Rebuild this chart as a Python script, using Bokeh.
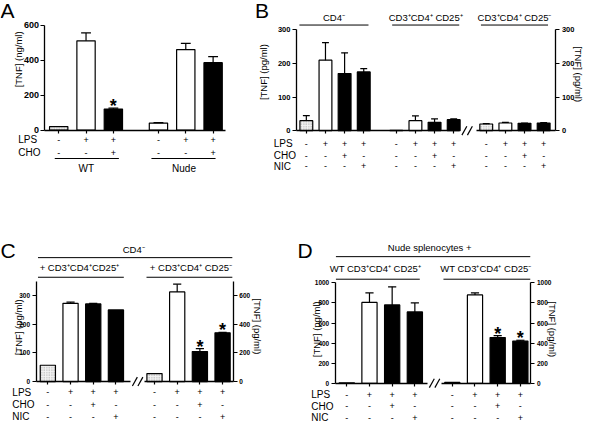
import math
from bokeh.plotting import figure
from bokeh.models import Range1d, LinearAxis, FixedTicker
from bokeh.layouts import column, row
from bokeh.core.properties import value
from bokeh.embed import file_html
from bokeh.resources import INLINE

FONT = "Liberation Sans"

# ---------------- data ----------------
# Panel A  (TNF, ng/ml)
A_groups = ["WT", "Nude"]
A_lps = ["-", "+", "+", "-", "+", "+"]
A_cho = ["-", "-", "+", "-", "-", "+"]
A_tnf = [20, 510, 120, 40, 460, 385]
A_sem = [0, 45, 5, 2, 35, 35]
A_fill = ["hatch", "white", "black", "white", "white", "black"]
A_sig = ["", "", "*", "", "", ""]
A_ticks = [0, 200, 400, 600]

# Panel B  (TNF, pg/ml)
B_groups = ["CD4⁻", "CD3⁺CD4⁺ CD25⁺", "CD3⁺CD4⁺ CD25⁻"]
B_lps = ["-", "+", "+", "+", "-", "+", "+", "+", "-", "+", "+", "+"]
B_cho = ["-", "-", "+", "-", "-", "-", "+", "-", "-", "-", "+", "-"]
B_nic = ["-", "-", "-", "+", "-", "-", "-", "+", "-", "-", "-", "+"]
B_tnf = [30, 210, 170, 175, 1, 30, 25, 33, 20, 23, 22, 23]
B_sem = [15, 52, 62, 10, 0, 14, 10, 2, 1, 2, 1, 1]
B_fill = ["hatch", "white", "black", "black", "hatch", "white", "black", "black",
          "hatch", "white", "black", "black"]
B_ticks = [0, 100, 200, 300]

# Panel C  (left group on left axis, right group on right axis)
C_top = "CD4⁻"
C_groups = ["+ CD3⁺CD4⁺CD25⁺", "+ CD3⁺CD4⁺ CD25⁻"]
C_lps = ["-", "+", "+", "+", "-", "+", "+", "+"]
C_cho = ["-", "-", "+", "-", "-", "-", "+", "-"]
C_nic = ["-", "-", "-", "+", "-", "-", "-", "+"]
C_tnf_left = [57, 273, 271, 250]
C_sem_left = [0, 4, 2, 0]
C_tnf_right = [56, 626, 210, 340]
C_sem_right = [0, 54, 20, 4]
C_fill = ["hatch", "white", "black", "black"]
C_sig_right = ["", "", "*", "*"]
C_ticks_left = [0, 100, 200, 300]
C_ticks_right = [0, 200, 400, 600]

# Panel D
D_top = "Nude splenocytes +"
D_groups = ["WT CD3⁺CD4⁺ CD25⁺", "WT CD3⁺CD4⁺ CD25⁻"]
D_lps = ["-", "+", "+", "+", "-", "+", "+", "+"]
D_cho = ["-", "-", "+", "-", "-", "-", "+", "-"]
D_nic = ["-", "-", "-", "+", "-", "-", "-", "+"]
D_tnf = [5, 805, 780, 710, 8, 880, 455, 420]
D_sem = [0, 95, 180, 90, 0, 20, 20, 8]
D_fill = ["hatch", "white", "black", "black", "hatch", "white", "black", "black"]
D_sig = ["", "", "", "", "", "", "*", "*"]
D_ticks = [0, 200, 400, 600, 800, 1000]

# ---------------- layout helpers ----------------
SX = 587 / 595.0
SY = 422 / 430.0


class Geo:
    def __init__(self, left, top, w, h, rx0, slot, ry0, k):
        self.left, self.top, self.w, self.h = left, top, w, h
        self.rx0, self.slot, self.ry0, self.k = rx0, slot, ry0, k

    def xd(self, rx):
        return (rx - self.rx0) / self.slot

    def yd(self, ry):
        return (self.ry0 - ry) / self.k

    def xr(self):
        return Range1d(self.xd(5 + self.left / SX), self.xd(5 + (self.left + self.w) / SX))

    def ylims(self):
        return (self.yd(5 + (self.top + self.h) / SY), self.yd(5 + self.top / SY))


def make_fig(g):
    lo, hi = g.ylims()
    p = figure(width=g.w, height=g.h, x_range=g.xr(), y_range=Range1d(lo, hi),
               x_axis_location=None, y_axis_location=None, min_border=0,
               toolbar_location=None, output_backend="svg")
    p.outline_line_color = None
    p.grid.visible = False
    return p


def txt(p, xs, ys, texts, size, align="center", baseline="middle", bold=False, angle=0.0):
    p.text(x=xs, y=ys, text=texts, text_font=value(FONT),
           text_font_size=value("%.1fpx" % size), text_align=align,
           text_baseline=baseline, text_font_style="bold" if bold else "normal",
           angle=angle, text_color="black")


def bars(p, xs, vals, sems, fills, yname="default"):
    styles = {"white": "white", "black": "black", "hatch": "#f2f2f2"}
    for kind, fc in styles.items():
        idx = [i for i, f in enumerate(fills) if f == kind]
        if not idx:
            continue
        kw = {}
        if kind == "hatch":
            kw = dict(hatch_pattern="dot", hatch_color="#a0a0a0", hatch_scale=2.5)
        p.vbar(x=[xs[i] for i in idx], top=[vals[i] for i in idx], bottom=0,
               width=0.67, fill_color=fc, line_color="black", line_width=1.2,
               y_range_name=yname, **kw)
    idx = [i for i in range(len(xs)) if sems[i] > 0]
    ex = [xs[i] for i in idx]
    v0 = [vals[i] for i in idx]
    v1 = [vals[i] + sems[i] for i in idx]
    p.segment(x0=ex, y0=v0, x1=ex, y1=v1, line_color="black", line_width=1.2, y_range_name=yname)
    p.segment(x0=[x - 0.18 for x in ex], y0=v1, x1=[x + 0.18 for x in ex], y1=v1,
              line_color="black", line_width=1.2, y_range_name=yname)


def stars(p, g, xs, vals, sems, sig, scale=1.0):
    idx = [i for i, s in enumerate(sig) if s]
    ys = [(vals[i] + sems[i]) * scale + 2 / (SY * g.k) for i in idx]
    txt(p, [xs[i] for i in idx], ys, [sig[i] for i in idx], 18, baseline="middle", bold=True)


def yaxis(p, g, rx, ticks, top, side, fsize, yname="default"):
    ax = LinearAxis(fixed_location=g.xd(rx), bounds=(0, top),
                    ticker=FixedTicker(ticks=ticks), y_range_name=yname)
    ax.axis_line_width = 1.3
    ax.axis_line_color = "black"
    ax.major_tick_out = 4
    ax.major_tick_in = 0
    ax.major_tick_line_width = 1.2
    ax.major_tick_line_color = "black"
    ax.minor_tick_out = 0
    ax.minor_tick_in = 0
    ax.major_label_text_font = FONT
    ax.major_label_text_font_style = "bold"
    ax.major_label_text_font_size = "%.1fpx" % fsize
    ax.major_label_text_color = "black"
    ax.major_label_standoff = 2
    p.add_layout(ax, side)


def xaxis(p, g, rxa, rxb, ticks):
    ax = LinearAxis(fixed_location=0, bounds=(g.xd(rxa), g.xd(rxb)),
                    ticker=FixedTicker(ticks=ticks))
    ax.axis_line_width = 1.3
    ax.axis_line_color = "black"
    ax.major_tick_out = 3
    ax.major_tick_in = 0
    ax.major_tick_line_width = 1.2
    ax.major_tick_line_color = "black"
    ax.minor_tick_out = 0
    ax.minor_tick_in = 0
    ax.major_label_text_font_size = "0px"
    ax.major_label_text_color = None
    p.add_layout(ax, "below")


def brk(p, g, rxc, ry0):
    for dx in (-2.8, 2.8):
        p.segment(x0=[g.xd(rxc + dx - 2.5)], y0=[g.yd(ry0 + 4.5)],
                  x1=[g.xd(rxc + dx + 2.5)], y1=[g.yd(ry0 - 4.5)],
                  line_color="black", line_width=1.2)


def hline(p, g, rxa, rxb, ry):
    p.segment(x0=[g.xd(rxa)], y0=[g.yd(ry)], x1=[g.xd(rxb)], y1=[g.yd(ry)],
              line_color="black", line_width=1.0)


def table(p, g, rx_lab, rows, pos):
    for name, ry, signs in rows:
        txt(p, [g.xd(rx_lab)], [g.yd(ry)], [name], 10, align="left")
        txt(p, pos, [g.yd(ry)] * len(pos), signs, 9)


AX_LBL = 9.5

# ---------------- Panel A ----------------
gA = Geo(0, 0, 247, 191, 64, 27.7, 137, 107 / 600)
pA = make_fig(gA)
posA = [gi * 3.65 + j for gi in range(2) for j in range(3)]
bars(pA, posA, A_tnf, A_sem, A_fill)
stars(pA, gA, posA, A_tnf, A_sem, A_sig)
yaxis(pA, gA, 50, A_ticks, 600, "left", 9)
xaxis(pA, gA, 50, 233, posA)
table(pA, gA, 23, [("LPS", 147, A_lps), ("CHO", 160, A_cho)], posA)
hline(pA, gA, 60, 125, 166)
hline(pA, gA, 158, 223, 166)
txt(pA, [gA.xd(92), gA.xd(191)], [gA.yd(176), gA.yd(176)], A_groups, 10)
txt(pA, [gA.xd(23)], [gA.yd(65)], ["[TNF] (ng/ml)"], AX_LBL, angle=math.pi / 2)
txt(pA, [gA.xd(5)], [gA.yd(15)], ["A"], 21, align="left")

# ---------------- Panel B ----------------
gB = Geo(247, 0, 340, 191, 315, 19.4, 137.7, 102.7 / 300)
pB = make_fig(gB)
posB = [gi * 4.7 + j for gi in range(3) for j in range(4)]
bars(pB, posB, B_tnf, B_sem, B_fill)
yaxis(pB, gB, 305, B_ticks, 300, "left", 7.5)
yaxis(pB, gB, 568, B_ticks, 300, "right", 7.5)
xaxis(pB, gB, 305, 470, posB[:8])
xaxis(pB, gB, 487, 568, posB[8:])
brk(pB, gB, 478, 137.7)
table(pB, gB, 282, [("LPS", 151, B_lps), ("CHO", 163, B_cho), ("NIC", 174, B_nic)], posB)
for (a, b) in [(308, 378), (402, 470), (492, 560)]:
    hline(pB, gB, a, b, 30)
txt(pB, [gB.xd(343), gB.xd(436), gB.xd(526)], [gB.yd(22)] * 3, B_groups, 9.5)
txt(pB, [gB.xd(272)], [gB.yd(78)], ["[TNF] (pg/ml)"], AX_LBL, angle=math.pi / 2)
txt(pB, [gB.xd(591)], [gB.yd(80)], ["[TNF] (pg/ml)"], AX_LBL, angle=-math.pi / 2)
txt(pB, [gB.xd(263)], [gB.yd(15)], ["B"], 21, align="left")

# ---------------- Panel C ----------------
gC = Geo(0, 191, 291, 231, 53, 23, 393.3, 87.6 / 300)
pC = make_fig(gC)
lo, hi = gC.ylims()
pC.extra_y_ranges = {"r": Range1d(lo * 2, hi * 2)}
posC = [gi * 4.7 + j for gi in range(2) for j in range(4)]
bars(pC, posC[:4], C_tnf_left, C_sem_left, C_fill)
bars(pC, posC[4:], C_tnf_right, C_sem_right, C_fill, yname="r")
stars(pC, gC, posC[4:], C_tnf_right, C_sem_right, C_sig_right, scale=0.5)
yaxis(pC, gC, 41, C_ticks_left, 350, "left", 6.5)
yaxis(pC, gC, 241, C_ticks_right, 700, "right", 6.5, yname="r")
xaxis(pC, gC, 41, 137, posC[:4])
xaxis(pC, gC, 151, 241, posC[4:])
brk(pC, gC, 144, 393.3)
table(pC, gC, 17, [("LPS", 404, C_lps), ("CHO", 417, C_cho), ("NIC", 429, C_nic)], posC)
hline(pC, gC, 43, 240, 267)
hline(pC, gC, 43, 130, 287)
hline(pC, gC, 153, 240, 287)
txt(pC, [gC.xd(140)], [gC.yd(259)], [C_top], 9.5)
txt(pC, [gC.xd(85), gC.xd(198)], [gC.yd(277)] * 2, C_groups, 9.5)
txt(pC, [gC.xd(23)], [gC.yd(338)], ["[TNF] (pg/ml)"], AX_LBL, angle=math.pi / 2)
txt(pC, [gC.xd(265)], [gC.yd(337)], ["[TNF] (pg/ml)"], AX_LBL, angle=-math.pi / 2)
txt(pC, [gC.xd(5)], [gC.yd(260)], ["C"], 21, align="left")

# ---------------- Panel D ----------------
gD = Geo(291, 191, 296, 231, 356, 23, 395, 102.3 / 1000)
pD = make_fig(gD)
posD = [gi * 4.65 + j for gi in range(2) for j in range(4)]
bars(pD, posD, D_tnf, D_sem, D_fill)
stars(pD, gD, posD, D_tnf, D_sem, D_sig)
yaxis(pD, gD, 344.3, D_ticks, 1000, "left", 6.5)
yaxis(pD, gD, 542.7, D_ticks, 1000, "right", 6.5)
xaxis(pD, gD, 344.3, 438, posD[:4])
xaxis(pD, gD, 452, 542.7, posD[4:])
brk(pD, gD, 445, 395)
table(pD, gD, 320, [("LPS", 406.7, D_lps), ("CHO", 418.5, D_cho), ("NIC", 430, D_nic)], posD)
hline(pD, gD, 345, 542, 266)
hline(pD, gD, 345, 430, 289)
hline(pD, gD, 454, 542, 289)
txt(pD, [gD.xd(440)], [gD.yd(257)], [D_top], 9.5)
txt(pD, [gD.xd(385), gD.xd(497)], [gD.yd(278)] * 2, D_groups, 9.5)
txt(pD, [gD.xd(325)], [gD.yd(340)], ["[TNF] (pg/ml)"], AX_LBL, angle=math.pi / 2)
txt(pD, [gD.xd(565)], [gD.yd(340)], ["[TNF] (pg/ml)"], AX_LBL, angle=-math.pi / 2)
txt(pD, [gD.xd(306)], [gD.yd(260)], ["D"], 21, align="left")

layout = column(row(pA, pB), row(pC, pD))
open("out.html", "w").write(file_html(layout, INLINE))
